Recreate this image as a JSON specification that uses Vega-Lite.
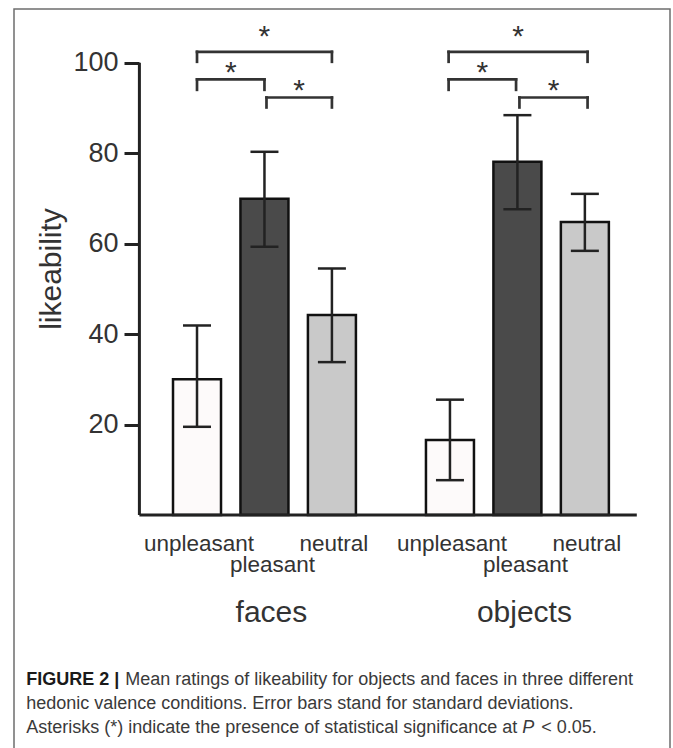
{
  "$schema": "https://vega.github.io/schema/vega-lite/v6.json",
  "width": 656,
  "height": 745,
  "autosize": {"type": "none"},
  "padding": {"left": 14, "top": 9, "right": 3, "bottom": 0},
  "background": "white",
  "config": {
    "view": {"stroke": "#6e6e6e", "strokeWidth": 1.5},
    "font": "Liberation Sans"
  },
  "datasets": {
    "bars": [
      {"stim": "faces", "valence": "unpleasant", "slot": 1, "mean": 30, "lower": 19.5, "upper": 41.9},
      {"stim": "faces", "valence": "pleasant", "slot": 2, "mean": 69.9, "lower": 59.3, "upper": 80.3},
      {"stim": "faces", "valence": "neutral", "slot": 3, "mean": 44.2, "lower": 33.8, "upper": 54.5},
      {"stim": "objects", "valence": "unpleasant", "slot": 4.75, "mean": 16.6, "lower": 7.7, "upper": 25.5},
      {"stim": "objects", "valence": "pleasant", "slot": 5.75, "mean": 78.1, "lower": 67.6, "upper": 88.4},
      {"stim": "objects", "valence": "neutral", "slot": 6.75, "mean": 64.8, "lower": 58.4, "upper": 71.0}
    ],
    "brackets": [
      {"stim": "faces", "from": 1, "to": 3, "top": 102.4, "leg": 100.2, "star": 106.6},
      {"stim": "faces", "from": 1, "to": 2, "top": 96.3, "leg": 94.0, "star": 98.6},
      {"stim": "faces", "from": 2.03, "to": 3, "top": 92.3, "leg": 90.1, "star": 94.7},
      {"stim": "objects", "from": 4.73, "to": 6.79, "top": 102.4, "leg": 100.2, "star": 106.6},
      {"stim": "objects", "from": 4.73, "to": 5.73, "top": 96.3, "leg": 94.0, "star": 98.6},
      {"stim": "objects", "from": 5.78, "to": 6.79, "top": 92.3, "leg": 90.1, "star": 94.7}
    ]
  },
  "layer": [
    {
      "data": {"name": "bars"},
      "mark": {"type": "bar", "width": 48, "stroke": "#111111", "strokeWidth": 2.5},
      "encoding": {
        "x": {"field": "slot", "type": "quantitative", "scale": {"domain": [-1.639, 7.938], "nice": false, "zero": false}, "axis": null},
        "y": {
          "field": "mean", "type": "quantitative",
          "scale": {"domain": [-52.84, 111.87], "nice": false, "zero": false},
          "axis": {
            "title": "likeability",
            "values": [20, 40, 60, 80, 100],
            "offset": -125,
            "domain": false,
            "grid": false,
            "tickSize": 15,
            "tickWidth": 3,
            "tickColor": "#222222",
            "labelFont": "Liberation Sans",
            "labelFontSize": 27,
            "labelColor": "#333333",
            "labelPadding": 6,
            "titleFont": "Liberation Sans",
            "titleFontSize": 30,
            "titleFontWeight": "normal",
            "titleColor": "#333333",
            "titleX": -73,
            "titleY": 259.5,
            "titleAngle": 270,
            "titleBaseline": "bottom",
            "titleAlign": "center"
          }
        },
        "y2": {"datum": 0},
        "fill": {
          "field": "valence", "type": "nominal",
          "scale": {"domain": ["unpleasant", "pleasant", "neutral"], "range": ["#fdfafa", "#4a4a4a", "#c9c9c9"]},
          "legend": null
        }
      }
    },
    {
      "data": {"name": "bars"},
      "mark": {"type": "rule", "strokeWidth": 2.5, "color": "#222222"},
      "encoding": {
        "x": {"field": "slot", "type": "quantitative"},
        "y": {"field": "lower", "type": "quantitative", "title": "likeability"},
        "y2": {"field": "upper"}
      }
    },
    {
      "data": {"name": "bars"},
      "mark": {"type": "tick", "orient": "horizontal", "size": 28, "thickness": 2.5, "color": "#222222", "opacity": 1},
      "encoding": {
        "x": {"field": "slot", "type": "quantitative"},
        "y": {"field": "lower", "type": "quantitative", "title": "likeability"}
      }
    },
    {
      "data": {"name": "bars"},
      "mark": {"type": "tick", "orient": "horizontal", "size": 28, "thickness": 2.5, "color": "#222222", "opacity": 1},
      "encoding": {
        "x": {"field": "slot", "type": "quantitative"},
        "y": {"field": "upper", "type": "quantitative", "title": "likeability"}
      }
    },
    {
      "data": {"values": [{}]},
      "mark": {"type": "rule", "strokeWidth": 3, "color": "#222222"},
      "encoding": {
        "x": {"datum": 0.146},
        "y": {"datum": 0},
        "y2": {"datum": 100}
      }
    },
    {
      "data": {"values": [{}]},
      "mark": {"type": "rule", "strokeWidth": 3, "color": "#222222"},
      "encoding": {
        "x": {"datum": 0.146},
        "x2": {"datum": 7.52},
        "y": {"datum": 0}
      }
    },
    {
      "data": {"name": "brackets"},
      "mark": {"type": "rule", "strokeWidth": 2.7, "color": "#333333", "strokeCap": "square"},
      "encoding": {
        "x": {"field": "from", "type": "quantitative"},
        "x2": {"field": "to"},
        "y": {"field": "top", "type": "quantitative", "title": "likeability"}
      }
    },
    {
      "data": {"name": "brackets"},
      "mark": {"type": "rule", "strokeWidth": 2.7, "color": "#333333", "strokeCap": "square"},
      "encoding": {
        "x": {"field": "from", "type": "quantitative"},
        "y": {"field": "leg", "type": "quantitative", "title": "likeability"},
        "y2": {"field": "top"}
      }
    },
    {
      "data": {"name": "brackets"},
      "mark": {"type": "rule", "strokeWidth": 2.7, "color": "#333333", "strokeCap": "square"},
      "encoding": {
        "x": {"field": "to", "type": "quantitative"},
        "y": {"field": "leg", "type": "quantitative", "title": "likeability"},
        "y2": {"field": "top"}
      }
    },
    {
      "data": {"name": "brackets"},
      "transform": [{"calculate": "(datum.from + datum.to) / 2", "as": "mid"}],
      "mark": {"type": "text", "text": "*", "fontSize": 30, "baseline": "alphabetic", "align": "center", "dy": 13, "color": "#333333", "font": "Liberation Sans"},
      "encoding": {
        "x": {"field": "mid", "type": "quantitative"},
        "y": {"field": "star", "type": "quantitative", "title": "likeability"}
      }
    },
    {
      "data": {"name": "bars"},
      "transform": [{"filter": "datum.valence != 'pleasant'"}],
      "mark": {"type": "text", "fontSize": 22.5, "baseline": "alphabetic", "align": "center", "dx": 2, "color": "#333333", "font": "Liberation Sans"},
      "encoding": {
        "x": {"field": "slot", "type": "quantitative"},
        "y": {"datum": -7.9},
        "text": {"field": "valence"}
      }
    },
    {
      "data": {"name": "bars"},
      "transform": [{"filter": "datum.valence == 'pleasant'"}],
      "mark": {"type": "text", "fontSize": 22.5, "baseline": "alphabetic", "align": "center", "dx": 8, "color": "#333333", "font": "Liberation Sans"},
      "encoding": {
        "x": {"field": "slot", "type": "quantitative"},
        "y": {"datum": -12.6},
        "text": {"field": "valence"}
      }
    },
    {
      "data": {"name": "bars"},
      "transform": [{"filter": "datum.valence == 'pleasant'"}],
      "mark": {"type": "text", "fontSize": 30, "baseline": "alphabetic", "align": "center", "dx": 7, "color": "#333333", "font": "Liberation Sans"},
      "encoding": {
        "x": {"field": "slot", "type": "quantitative"},
        "y": {"datum": -23.6},
        "text": {"field": "stim"}
      }
    },
    {
      "data": {"values": [{}]},
      "mark": {"type": "text", "text": "FIGURE 2 |", "fontSize": 18, "fontWeight": "bold", "baseline": "alphabetic", "align": "left", "color": "#1a1a1a", "font": "Liberation Sans"},
      "encoding": {
        "x": {"datum": -1.533},
        "y": {"datum": -37.6}
      }
    },
    {
      "data": {"values": [{}]},
      "mark": {"type": "text", "text": "Mean ratings of likeability for objects and faces in three different", "fontSize": 18, "baseline": "alphabetic", "align": "left", "dx": 99, "color": "#3a3a3a", "font": "Liberation Sans"},
      "encoding": {
        "x": {"datum": -1.533},
        "y": {"datum": -37.6}
      }
    },
    {
      "data": {"values": [{}]},
      "mark": {"type": "text", "text": "hedonic valence conditions. Error bars stand for standard deviations.", "fontSize": 18, "baseline": "alphabetic", "align": "left", "color": "#3a3a3a", "font": "Liberation Sans"},
      "encoding": {
        "x": {"datum": -1.533},
        "y": {"datum": -42.9}
      }
    },
    {
      "data": {"values": [{}]},
      "mark": {"type": "text", "text": "Asterisks (*) indicate the presence of statistical significance at", "fontSize": 18, "baseline": "alphabetic", "align": "left", "color": "#3a3a3a", "font": "Liberation Sans"},
      "encoding": {
        "x": {"datum": -1.533},
        "y": {"datum": -48.27}
      }
    },
    {
      "data": {"values": [{}]},
      "mark": {"type": "text", "text": "P", "fontSize": 18, "fontStyle": "italic", "baseline": "alphabetic", "align": "left", "dx": 496, "color": "#3a3a3a", "font": "Liberation Sans"},
      "encoding": {
        "x": {"datum": -1.533},
        "y": {"datum": -48.27}
      }
    },
    {
      "data": {"values": [{}]},
      "mark": {"type": "text", "text": "< 0.05.", "fontSize": 18, "baseline": "alphabetic", "align": "left", "dx": 515, "color": "#3a3a3a", "font": "Liberation Sans"},
      "encoding": {
        "x": {"datum": -1.533},
        "y": {"datum": -48.27}
      }
    }
  ]
}
